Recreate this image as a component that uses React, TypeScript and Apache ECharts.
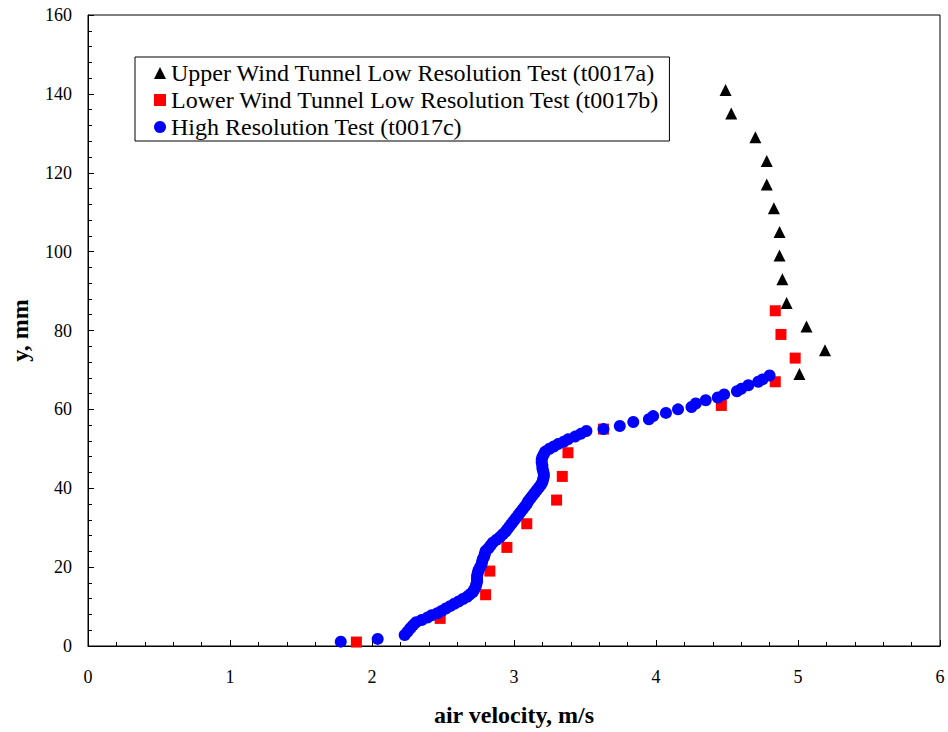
import React, { useEffect, useRef } from "react";
import * as echarts from "echarts";

const upperX = [4.49, 4.53, 4.70, 4.78, 4.78, 4.83, 4.87, 4.87, 4.89, 4.92, 5.06, 5.19, 5.01];
const upperY = [141, 135, 129, 123, 117, 111, 105, 99, 93, 87, 81, 75, 69];

const lowerX = [1.89, 2.48, 2.80, 2.83, 2.95, 3.09, 3.30, 3.34, 3.38, 3.63, 4.46, 4.84, 4.98, 4.88, 4.84];
const lowerY = [1, 7, 13, 19, 25, 31, 37, 43, 49, 55, 61, 67, 73, 79, 85];

const highX = [
  1.78, 2.04, 2.23, 2.25, 2.27, 2.29, 2.31, 2.35, 2.39, 2.42, 2.46, 2.49, 2.52, 2.55, 2.58, 2.61,
  2.64, 2.67, 2.69, 2.71, 2.72, 2.73, 2.735, 2.74, 2.74, 2.74, 2.745, 2.75, 2.76, 2.77, 2.775, 2.78,
  2.79, 2.795, 2.80, 2.82, 2.835, 2.85, 2.875, 2.90, 2.92, 2.94, 2.955, 2.97, 2.985, 3.00, 3.015, 3.03,
  3.045, 3.06, 3.075, 3.09, 3.10, 3.115, 3.13, 3.145, 3.16, 3.175, 3.19, 3.20, 3.205, 3.21, 3.21, 3.205,
  3.20, 3.20, 3.195, 3.195, 3.20, 3.21, 3.22, 3.25, 3.28, 3.31, 3.35, 3.38, 3.43, 3.47, 3.51, 3.63,
  3.745, 3.84, 3.95, 3.98, 4.07, 4.155, 4.25, 4.28, 4.35, 4.435, 4.48, 4.57, 4.60, 4.65, 4.72, 4.75, 4.80,
];
const highY = [
  1.1, 1.8, 2.8, 3.6, 4.5, 5.3, 6.0, 6.6, 7.2, 7.8, 8.3, 8.9, 9.5, 10.1, 10.7, 11.3,
  11.9, 12.5, 13.1, 13.7, 14.3, 15.0, 15.7, 16.4, 17.1, 17.8, 18.5, 19.2, 19.9, 20.6, 21.3, 22.0,
  22.7, 23.4, 24.1, 24.8, 25.5, 26.2, 26.9, 27.6, 28.3, 29.0, 29.7, 30.4, 31.1, 31.8, 32.5, 33.2,
  33.9, 34.6, 35.3, 36.0, 36.7, 37.4, 38.1, 38.8, 39.5, 40.2, 40.9, 41.6, 42.3, 43.0, 43.7, 44.4,
  45.1, 45.8, 46.5, 47.2, 47.9, 48.6, 49.3, 50.0, 50.6, 51.2, 51.8, 52.4, 53.1, 53.8, 54.5, 55.0,
  55.8, 56.8, 57.5, 58.3, 59.1, 60.0, 60.6, 61.5, 62.3, 63.0, 63.8, 64.6, 65.2, 66.1, 67.0, 67.6, 68.6,
];

const seriesNames = [
  "Upper Wind Tunnel Low Resolution Test (t0017a)",
  "Lower Wind Tunnel Low Resolution Test (t0017b)",
  "High Resolution Test (t0017c)",
];

const FONT = "Liberation Serif";

const zip = (xs: number[], ys: number[]) => xs.map((x, i) => [x, ys[i]]);

export default function App() {
  const ref = useRef<HTMLDivElement>(null);
  useEffect(() => {
    if (!ref.current) return;
    const chart = echarts.init(ref.current, undefined, { renderer: "svg" });
    chart.setOption({
      animation: false,
      backgroundColor: "#fff",
      textStyle: { fontFamily: FONT },
      grid: {
        left: 86,
        top: 15,
        right: 8,
        bottom: 85,
        show: true,
        borderColor: "#000",
        borderWidth: 1,
        backgroundColor: "transparent",
      },
      legend: {
        orient: "vertical",
        left: 135,
        top: 57,
        padding: [4, 10, 2, 19],
        itemGap: 3,
        itemWidth: 12,
        itemHeight: 12,
        borderColor: "#000",
        borderWidth: 1,
        backgroundColor: "#fff",
        textStyle: { fontFamily: FONT, fontSize: 24, color: "#000", lineHeight: 24 },
        data: [
          { name: seriesNames[0], icon: "triangle" },
          { name: seriesNames[1], icon: "rect" },
          { name: seriesNames[2], icon: "circle" },
        ],
      },
      xAxis: {
        type: "value",
        min: 0,
        max: 6,
        interval: 1,
        name: "air velocity, m/s",
        nameLocation: "middle",
        nameGap: 57,
        nameTextStyle: { fontFamily: FONT, fontSize: 24, fontWeight: "bold", color: "#000" },
        axisLine: { show: true, onZero: false, lineStyle: { color: "#000", width: 1 } },
        axisTick: { show: true, inside: true, length: 6, lineStyle: { color: "#000" } },
        minorTick: { show: true, splitNumber: 5, length: 4, lineStyle: { color: "#000" } },
        axisLabel: { fontFamily: FONT, fontSize: 18, color: "#000", margin: 22 },
        splitLine: { show: false },
      },
      yAxis: {
        type: "value",
        min: 0,
        max: 160,
        interval: 20,
        name: "y, mm",
        nameLocation: "middle",
        nameGap: 56,
        nameRotate: 90,
        nameTextStyle: { fontFamily: FONT, fontSize: 24, fontWeight: "bold", color: "#000" },
        axisLine: { show: true, onZero: false, lineStyle: { color: "#000", width: 1 } },
        axisTick: { show: true, inside: true, length: 6, lineStyle: { color: "#000" } },
        minorTick: { show: true, splitNumber: 5, length: 4, lineStyle: { color: "#000" } },
        axisLabel: { fontFamily: FONT, fontSize: 18, color: "#000", margin: 16 },
        splitLine: { show: false },
      },
      series: [
        {
          name: seriesNames[0],
          type: "scatter",
          symbol: "triangle",
          symbolSize: 12,
          itemStyle: { color: "#000", opacity: 1 },
          data: zip(upperX, upperY),
        },
        {
          name: seriesNames[1],
          type: "scatter",
          symbol: "rect",
          symbolSize: 11,
          itemStyle: { color: "#ff0000", opacity: 1 },
          data: zip(lowerX, lowerY),
        },
        {
          name: seriesNames[2],
          type: "scatter",
          symbol: "circle",
          symbolSize: 12,
          itemStyle: { color: "#0000ff", opacity: 1 },
          data: zip(highX, highY),
        },
      ],
    });
    return () => chart.dispose();
  }, []);
  return <div ref={ref} style={{ width: 948, height: 732, position: "absolute", left: 0, top: 0 }} />;
}
